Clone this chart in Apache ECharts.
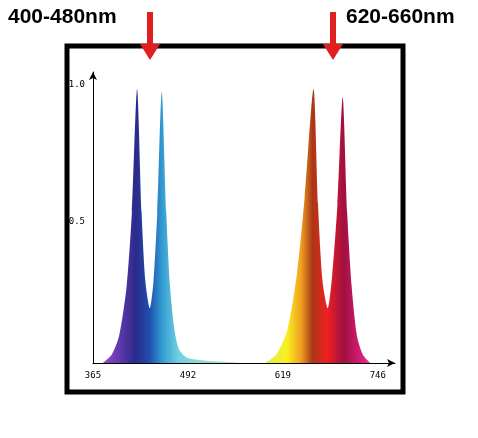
<!DOCTYPE html>
<html><head><meta charset="utf-8">
<script src="https://cdn.jsdelivr.net/npm/echarts@6/dist/echarts.min.js"></script>
<style>html,body{margin:0;background:#fff}#c{width:478px;height:438px}</style>
</head><body><div id="c"></div>
<script>
const xTicks = [365, 492, 619, 746];
const yTicks = [0.5, 1.0];
const blueWl = [378,390,400,410,417,424,430,435,441,446,451,457,463,468,474,480,490,505,530,555,565];
const blueVal = [0,0.03,0.1,0.28,0.55,1.0,0.55,0.3,0.2,0.3,0.55,0.99,0.55,0.28,0.12,0.05,0.02,0.012,0.006,0.002,0];
const redWl = [595,610,625,638,648,660,666,672,679,685,692,699,705,711,718,726,736];
const redVal = [0,0.03,0.12,0.33,0.6,1.0,0.58,0.3,0.2,0.32,0.58,0.97,0.55,0.28,0.1,0.03,0];
const chart = echarts.init(document.getElementById('c'));
const grad = new echarts.graphic.LinearGradient(93,0,378,0,[
 {offset:0,color:'#d060c0'},{offset:0.06,color:'#8040c0'},{offset:0.15,color:'#2a2a8a'},
 {offset:0.2,color:'#2050b0'},{offset:0.24,color:'#3098d0'},{offset:0.3,color:'#70d0e0'},
 {offset:0.45,color:'#b0e0d0'},{offset:0.68,color:'#f8f020'},{offset:0.73,color:'#f0a020'},
 {offset:0.77,color:'#a83818'},{offset:0.82,color:'#f02020'},{offset:0.88,color:'#a01040'},
 {offset:0.95,color:'#e02080'},{offset:1,color:'#f060b0'}],true);
chart.setOption({
 backgroundColor:'#fff', animation:false,
 grid:{left:93,right:83,top:72,bottom:75},
 xAxis:{type:'value',min:365,max:769,
  axisLine:{lineStyle:{color:'#000',width:1},symbol:['none','arrow'],symbolSize:[6,8]},
  axisTick:{show:false},splitLine:{show:false},
  axisLabel:{customValues:xTicks,color:'#000',fontFamily:'DejaVu Sans Mono',fontSize:9}},
 yAxis:{type:'value',min:0,max:1.062,
  axisLine:{show:true,lineStyle:{color:'#000',width:1},symbol:['none','arrow'],symbolSize:[6,8]},
  axisTick:{show:false},splitLine:{show:false},
  axisLabel:{customValues:yTicks,formatter:v=>v.toFixed(1),color:'#000',fontFamily:'DejaVu Sans Mono',fontSize:9,verticalAlign:'bottom'}},
 series:[
  {type:'line',smooth:0.25,data:blueWl.map((w,i)=>[w,blueVal[i]]),symbol:'none',lineStyle:{width:0},areaStyle:{color:grad,opacity:1}},
  {type:'line',smooth:0.25,data:redWl.map((w,i)=>[w,redVal[i]]),symbol:'none',lineStyle:{width:0},areaStyle:{color:grad,opacity:1}}
 ],
 graphic:[
  {type:'rect',shape:{x:67,y:46,width:336,height:346},style:{fill:'none',stroke:'#000',lineWidth:5},z:10},
  {type:'text',x:8,y:7,style:{text:'400-480nm',font:'bold 21px "Liberation Sans Narrow", "Liberation Sans", sans-serif',fill:'#000'}},
  {type:'text',x:346,y:7,style:{text:'620-660nm',font:'bold 21px "Liberation Sans Narrow", "Liberation Sans", sans-serif',fill:'#000'}},
  {type:'polygon',shape:{points:[[147,12],[153,12],[153,44],[160,44],[150,60],[140,44],[147,44]]},style:{fill:'#e02020'},z:20},
  {type:'polygon',shape:{points:[[330,12],[336,12],[336,44],[343,44],[333,60],[323,44],[330,44]]},style:{fill:'#e02020'},z:20}
 ]
});
</script></body></html>
